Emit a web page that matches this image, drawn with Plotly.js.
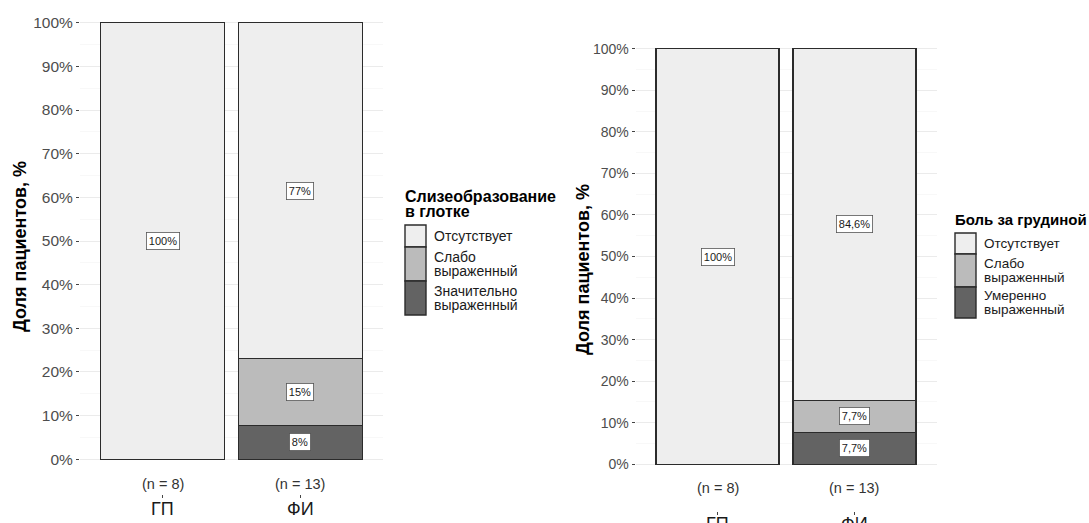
<!DOCTYPE html>
<html>
<head>
<meta charset="utf-8">
<script src="https://cdn.plot.ly/plotly-3.0.1.min.js"></script>
<style>html,body{margin:0;padding:0;background:#fff;}#chart{width:1089px;height:523px;}</style>
</head>
<body>
<div id="chart"></div>
<script>
// ---------- data ----------
const groups = ["ГП", "ФИ"];
const groupN = ["(n = 8)", "(n = 13)"];
const yTickVals = [0, 10, 20, 30, 40, 50, 60, 70, 80, 90, 100];
const yTickText = ["0%", "10%", "20%", "30%", "40%", "50%", "60%", "70%", "80%", "90%", "100%"];

// Left chart: Слизеобразование в глотке (percent)
const leftCats = ["Отсутствует", "Слабо<br>выраженный", "Значительно<br>выраженный"];
const leftAbsent = [100, 76.9];
const leftWeak = [0, 15.4];
const leftStrong = [0, 7.7];
const leftAbsentLbl = ["100%", "77%"];
const leftWeakLbl = ["", "15%"];
const leftStrongLbl = ["", "8%"];

// Right chart: Боль за грудиной (percent)
const rightCats = ["Отсутствует", "Слабо<br>выраженный", "Умеренно<br>выраженный"];
const rightAbsent = [100, 84.6];
const rightWeak = [0, 7.7];
const rightModerate = [0, 7.7];
const rightAbsentLbl = ["100%", "84,6%"];
const rightWeakLbl = ["", "7,7%"];
const rightModerateLbl = ["", "7,7%"];

const leftTitle = "Слизеобразование<br>в глотке";
const rightTitle = "Боль за грудиной";
const yTitle = "Доля пациентов, %";

// ---------- styling ----------
const W = 1089, H = 523;
const FONT = "Liberation Sans, Arial, sans-serif";
const fills = ["#eeeeee", "#bbbbbb", "#636363"];
const outline = "#2b2b2b";
const px = x => x / W;
const py = y => 1 - y / H;

function barTrace(vals, name, color, xa, ya) {
  return {
    type: "bar", x: groups, y: vals, name: name, xaxis: xa, yaxis: ya,
    marker: {color: color, line: {color: outline, width: 1.4}},
    showlegend: false, hoverinfo: "skip"
  };
}

const traces = [
  barTrace(leftStrong, leftCats[2], fills[2], "x", "y"),
  barTrace(leftWeak, leftCats[1], fills[1], "x", "y"),
  barTrace(leftAbsent, leftCats[0], fills[0], "x", "y"),
  barTrace(rightModerate, rightCats[2], fills[2], "x2", "y2"),
  barTrace(rightWeak, rightCats[1], fills[1], "x2", "y2"),
  barTrace(rightAbsent, rightCats[0], fills[0], "x2", "y2")
];

const annotations = [];
const shapes = [];

// segment labels
function segLabels(stacks, labels, xref, yref, fsize) {
  for (let g = 0; g < groups.length; g++) {
    let base = 0;
    for (let s = 0; s < stacks.length; s++) {
      const v = stacks[s][g];
      if (v > 0 && labels[s][g]) {
        annotations.push({
          x: groups[g], y: base + v / 2, xref: xref, yref: yref,
          text: labels[s][g], showarrow: false,
          font: {family: FONT, size: fsize, color: "#1a1a1a"},
          bgcolor: "#ffffff", bordercolor: "#555555", borderwidth: 0.8, borderpad: 2
        });
      }
      base += v;
    }
  }
}
segLabels([leftStrong, leftWeak, leftAbsent], [leftStrongLbl, leftWeakLbl, leftAbsentLbl], "x", "y", 11);
segLabels([rightModerate, rightWeak, rightAbsent], [rightModerateLbl, rightWeakLbl, rightAbsentLbl], "x2", "y2", 11);

// (n = ...) labels and group labels
groups.forEach((g, i) => {
  annotations.push({x: g, xref: "x", y: py(484), yref: "paper", text: groupN[i], showarrow: false,
    font: {family: FONT, size: 14.5, color: "#333333"}, xanchor: "center", yanchor: "middle"});
  annotations.push({x: g, xref: "x2", y: py(488), yref: "paper", text: groupN[i], showarrow: false,
    font: {family: FONT, size: 14.5, color: "#333333"}, xanchor: "center", yanchor: "middle"});
  annotations.push({x: g, xref: "x", y: py(508.5), yref: "paper", text: g, showarrow: false,
    font: {family: FONT, size: 18, color: "#1a1a1a"}, xanchor: "center", yanchor: "middle"});
  annotations.push({x: g, xref: "x2", y: py(524), yref: "paper", text: g, showarrow: false,
    font: {family: FONT, size: 18, color: "#1a1a1a"}, xanchor: "center", yanchor: "middle"});
});

// y titles
annotations.push({x: px(20), y: py(247), xref: "paper", yref: "paper", text: "<b>" + yTitle + "</b>",
  textangle: -90, showarrow: false, xanchor: "center", yanchor: "middle", font: {family: FONT, size: 18, color: "#000"}});
annotations.push({x: px(583), y: py(270), xref: "paper", yref: "paper", text: "<b>" + yTitle + "</b>",
  textangle: -90, showarrow: false, xanchor: "center", yanchor: "middle", font: {family: FONT, size: 18, color: "#000"}});

// legends (manual, ggplot-like), multi-line text split with tight line spacing
function textLines(x, yc, text, size, bold, gap) {
  const lines = text.split("<br>");
  lines.forEach((ln, k) => {
    const y = yc + (k - (lines.length - 1) / 2) * gap;
    annotations.push({x: px(x), y: py(y), xref: "paper", yref: "paper", xanchor: "left", yanchor: "middle",
      text: bold ? "<b>" + ln + "</b>" : ln, showarrow: false,
      font: {family: FONT, size: size, color: bold ? "#000" : "#1a1a1a"}});
  });
}
function legend(x0, titleY, title, tsize, keys, cats, fsize, gap) {
  textLines(x0 - 2, titleY, title, tsize, true, 15);
  for (let i = 0; i < cats.length; i++) {
    const [y0, y1] = keys[i];
    shapes.push({type: "rect", xref: "paper", yref: "paper", x0: px(x0), x1: px(x0 + 21), y0: py(y1), y1: py(y0),
      fillcolor: fills[i], line: {color: outline, width: 1.4}});
    textLines(x0 + 27, (y0 + y1) / 2, cats[i], fsize, false, gap);
  }
}
legend(405, 204, leftTitle, 16, [[225, 247], [247, 281], [281, 315]], leftCats, 14, 14);
legend(955, 219, rightTitle, 15, [[233, 254], [254, 287], [287, 318]], rightCats, 13.5, 14);

const yCommon = {
  range: [-0.4, 100.4], tickmode: "array", tickvals: yTickVals, ticktext: yTickText,
  showgrid: true, gridcolor: "#ebebeb", gridwidth: 1, zeroline: false, showline: false,
  ticks: "outside", ticklen: 3, tickcolor: "#444", tickwidth: 1,
  tickfont: {family: FONT, size: 15.5, color: "#4d4d4d"},
  minor: {tickmode: "array", tickvals: [5, 15, 25, 35, 45, 55, 65, 75, 85, 95], showgrid: true, gridcolor: "#f4f4f4", gridwidth: 0.6, ticks: ""},
  fixedrange: true
};
const xCommon = {
  type: "category", range: [-0.6, 1.6], showgrid: false, zeroline: false, showline: false,
  ticks: "inside", ticklen: 3, tickcolor: "#444", tickwidth: 1, showticklabels: false,
  anchor: "free", fixedrange: true
};

const layout = {
  width: W, height: H, margin: {l: 0, r: 0, t: 0, b: 0},
  paper_bgcolor: "#fff", plot_bgcolor: "rgba(0,0,0,0)",
  barmode: "stack", bargap: 0.1, showlegend: false,
  xaxis: Object.assign({}, xCommon, {domain: [px(80), px(383)], position: py(498)}),
  yaxis: Object.assign({}, yCommon, {domain: [py(461), py(21)], anchor: "x"}),
  xaxis2: Object.assign({}, xCommon, {domain: [px(635.5), px(936.5)], position: py(515)}),
  yaxis2: Object.assign({}, yCommon, {domain: [py(466), py(47)], anchor: "x2",
    tickfont: {family: FONT, size: 14, color: "#4d4d4d"}}),
  annotations: annotations, shapes: shapes
};

Plotly.newPlot("chart", traces, layout, {staticPlot: true});
</script>
</body>
</html>
